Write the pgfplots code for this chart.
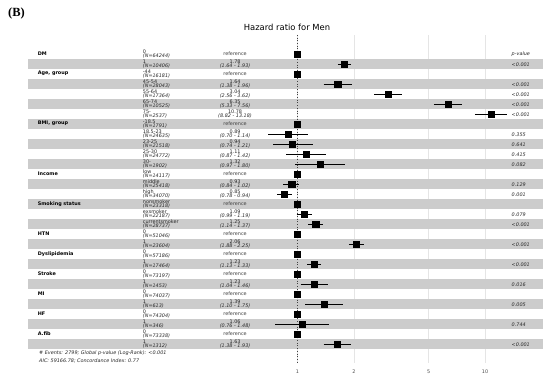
\documentclass[border=0pt]{standalone}
\usepackage{fontspec}
\setmainfont{DejaVu Sans}
\newfontfamily\serifB{Liberation Serif}
\usepackage{pgfplots}
\pgfplotsset{compat=1.18}
\usepackage{pgfplotstable}

% hazard ratio point estimates (row = position from top)
\pgfplotstableread{
row hr
1 1
2 1.78
3 1
4 1.64
5 3.04
6 6.35
7 10.78
8 1
9 0.89
10 0.94
11 1.11
12 1.32
13 1
14 0.93
15 0.85
16 1
17 1.09
18 1.25
19 1
20 2.06
21 1
22 1.23
23 1
24 1.23
25 1
26 1.39
27 1
28 1.06
29 1
30 1.63
}\hrdata

% confidence intervals, one segment per row
\pgfplotstableread{
x y
1.64 2
1.93 2
nan nan
1.38 4
1.96 4
nan nan
2.56 5
3.62 5
nan nan
5.33 6
7.56 6
nan nan
8.82 7
13.18 7
nan nan
0.70 9
1.14 9
nan nan
0.74 10
1.21 10
nan nan
0.87 11
1.42 11
nan nan
0.97 12
1.80 12
nan nan
0.84 14
1.02 14
nan nan
0.78 15
0.94 15
nan nan
0.99 17
1.19 17
nan nan
1.14 18
1.37 18
nan nan
1.88 20
2.25 20
nan nan
1.13 22
1.33 22
nan nan
1.04 24
1.46 24
nan nan
1.10 26
1.75 26
nan nan
0.76 28
1.48 28
nan nan
1.38 30
1.93 30
}\cidata

\newcommand{\fs}{\fontsize{4.9}{5.5}\selectfont}
\newcommand{\xa}{0.0411}   % variable name column
\newcommand{\xb}{0.1494}   % level column
\newcommand{\xc}{0.4642}   % estimate column
\newcommand{\xd}{13.85}    % p-value column
\newcommand{\var}[2]{\node[anchor=west,font=\fs\bfseries,inner sep=0pt,yshift=0.6pt] at (axis cs:\xa,#1) {#2};}
\newcommand{\lev}[3]{%
  \node[anchor=base west,font=\fs,inner sep=0pt,text=black!85,yshift=1.2pt] at (axis cs:\xb,#1) {#2};%
  \node[anchor=base west,font=\fs\itshape,inner sep=0pt,text=black!85,yshift=-3.0pt] at (axis cs:\xb,#1) {(N=#3)};}
\newcommand{\refr}[1]{\node[font=\fs,inner sep=0pt,text=black!75,yshift=0.6pt] at (axis cs:\xc,#1) {reference};}
\newcommand{\est}[5]{%
  \node[anchor=base,font=\fs,inner sep=0pt,text=black!85,yshift=1.2pt] at (axis cs:\xc,#1) {#2};%
  \node[anchor=base,font=\fs\itshape,inner sep=0pt,text=black!85,yshift=-3.0pt] at (axis cs:\xc,#1) {(#3 - #4)};%
  \node[anchor=west,font=\fs\itshape,inner sep=0pt,text=black!85] at (axis cs:\xd,#1) {#5};}

\begin{document}
\begin{tikzpicture}
\useasboundingbox (0,0) rectangle (550pt,380pt);
\node[font=\serifB\bfseries\fontsize{12.5}{14}\selectfont] at (16.5pt,367pt) {(B)};
\node[font=\fontsize{8.4}{10}\selectfont] at (287pt,352.5pt) {Hazard ratio for Men};
\begin{axis}[
  at={(28.3pt,17pt)}, anchor=south west,
  scale only axis, width=515pt, height=328pt,
  xmode=log, log basis x=10,
  xmin=0.03665, xmax=20.46,
  ymin=-0.93, ymax=31.87, y dir=reverse,
  xtick={1,2,5,10}, xticklabels={1,2,5,10},
  log ticks with fixed point,
  ytick=\empty,
  xmajorgrids, grid style={black!10, line width=0.6pt},
  axis line style={draw=none}, tick style={draw=none},
  xticklabel style={font=\fs, text=black!70, yshift=-3pt},
  /pgf/number format/assume math mode=true,
  clip=false,
  unbounded coords=jump,
]
% alternating row bands
\fill[black!20] (axis cs:0.03665,1.5) rectangle (axis cs:20.46,2.5);
\fill[black!20] (axis cs:0.03665,3.5) rectangle (axis cs:20.46,4.5);
\fill[black!20] (axis cs:0.03665,5.5) rectangle (axis cs:20.46,6.5);
\fill[black!20] (axis cs:0.03665,7.5) rectangle (axis cs:20.46,8.5);
\fill[black!20] (axis cs:0.03665,9.5) rectangle (axis cs:20.46,10.5);
\fill[black!20] (axis cs:0.03665,11.5) rectangle (axis cs:20.46,12.5);
\fill[black!20] (axis cs:0.03665,13.5) rectangle (axis cs:20.46,14.5);
\fill[black!20] (axis cs:0.03665,15.5) rectangle (axis cs:20.46,16.5);
\fill[black!20] (axis cs:0.03665,17.5) rectangle (axis cs:20.46,18.5);
\fill[black!20] (axis cs:0.03665,19.5) rectangle (axis cs:20.46,20.5);
\fill[black!20] (axis cs:0.03665,21.5) rectangle (axis cs:20.46,22.5);
\fill[black!20] (axis cs:0.03665,23.5) rectangle (axis cs:20.46,24.5);
\fill[black!20] (axis cs:0.03665,25.5) rectangle (axis cs:20.46,26.5);
\fill[black!20] (axis cs:0.03665,27.5) rectangle (axis cs:20.46,28.5);
\fill[black!20] (axis cs:0.03665,29.5) rectangle (axis cs:20.46,30.5);
% reference line at HR = 1
\draw[black!75, dotted, line width=0.7pt] (axis cs:1,-0.93) -- (axis cs:1,31.87);
% CIs and estimates
\addplot[black, line width=0.7pt, mark=none] table[x=x, y=y] {\cidata};
\addplot[only marks, mark=square*, mark size=3.1pt, black] table[x=hr, y=row] {\hrdata};
% text columns
\node[anchor=west,font=\fs\itshape,inner sep=0pt,text=black!85] at (axis cs:\xd,1) {p-value};
\var{1}{DM}
\lev{1}{0}{64244}\refr{1}
\lev{2}{1}{10406}\est{2}{1.78}{1.64}{1.93}{<0.001}
\var{3}{Age, group}
\lev{3}{-44}{16181}\refr{3}
\lev{4}{45-54}{28043}\est{4}{1.64}{1.38}{1.96}{<0.001}
\lev{5}{55-64}{17364}\est{5}{3.04}{2.56}{3.62}{<0.001}
\lev{6}{65-74}{10525}\est{6}{6.35}{5.33}{7.56}{<0.001}
\lev{7}{75-}{2537}\est{7}{10.78}{8.82}{13.18}{<0.001}
\var{8}{BMI, group}
\lev{8}{-18.5}{1791}\refr{8}
\lev{9}{18.5-23}{24635}\est{9}{0.89}{0.70}{1.14}{0.355}
\lev{10}{23-25}{21518}\est{10}{0.94}{0.74}{1.21}{0.641}
\lev{11}{25-30}{24772}\est{11}{1.11}{0.87}{1.42}{0.415}
\lev{12}{30-}{1902}\est{12}{1.32}{0.97}{1.80}{0.082}
\var{13}{Income}
\lev{13}{low}{14117}\refr{13}
\lev{14}{middle}{25418}\est{14}{0.93}{0.84}{1.02}{0.129}
\lev{15}{high}{34070}\est{15}{0.85}{0.78}{0.94}{0.001}
\var{16}{Smoking status}
\lev{16}{nonsmoker}{23318}\refr{16}
\lev{17}{exsmoker}{22187}\est{17}{1.09}{0.99}{1.19}{0.079}
\lev{18}{currentsmoker}{28737}\est{18}{1.25}{1.14}{1.37}{<0.001}
\var{19}{HTN}
\lev{19}{0}{51046}\refr{19}
\lev{20}{1}{23604}\est{20}{2.06}{1.88}{2.25}{<0.001}
\var{21}{Dyslipidemia}
\lev{21}{0}{57186}\refr{21}
\lev{22}{1}{17464}\est{22}{1.23}{1.13}{1.33}{<0.001}
\var{23}{Stroke}
\lev{23}{0}{73197}\refr{23}
\lev{24}{1}{1453}\est{24}{1.23}{1.04}{1.46}{0.016}
\var{25}{MI}
\lev{25}{0}{74037}\refr{25}
\lev{26}{1}{613}\est{26}{1.39}{1.10}{1.75}{0.005}
\var{27}{HF}
\lev{27}{0}{74304}\refr{27}
\lev{28}{1}{346}\est{28}{1.06}{0.76}{1.48}{0.744}
\var{29}{A.fib}
\lev{29}{0}{73338}\refr{29}
\lev{30}{1}{1312}\est{30}{1.63}{1.38}{1.93}{<0.001}
% footer
\node[anchor=west,font=\fs\itshape,inner sep=0pt,text=black!85] at (axis cs:0.0418,30.9) {\# Events: 2799; Global p-value (Log-Rank): <0.001};
\node[anchor=west,font=\fs\itshape,inner sep=0pt,text=black!85] at (axis cs:0.0418,31.64) {AIC: 59166.78; Concordance Index: 0.77};
\end{axis}
\end{tikzpicture}
\end{document}
